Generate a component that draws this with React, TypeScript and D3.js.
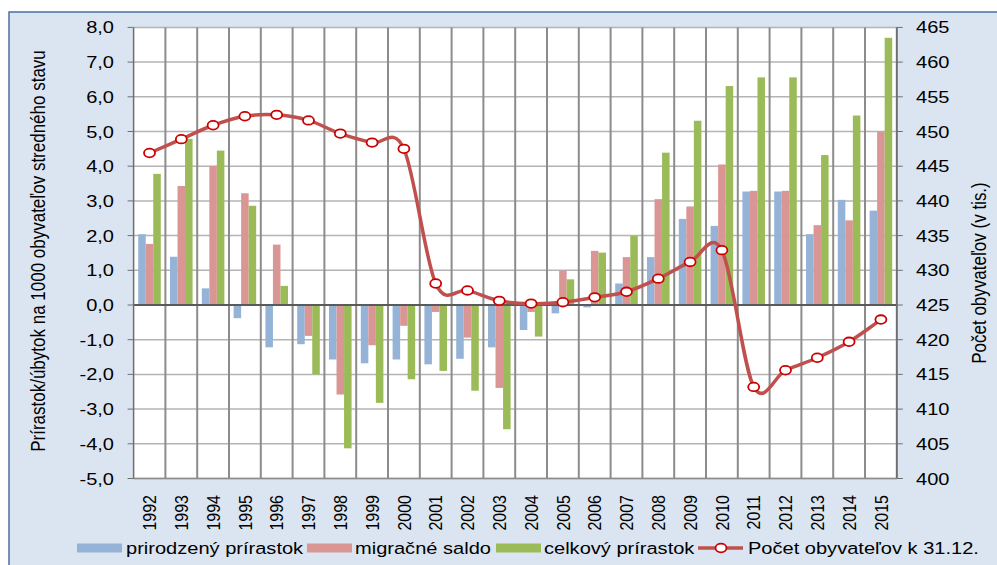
import * as d3 from 'd3';

// values
const years = [
  '1992', '1993', '1994', '1995', '1996', '1997', '1998', '1999', '2000', '2001', '2002', '2003',
  '2004', '2005', '2006', '2007', '2008', '2009', '2010', '2011', '2012', '2013', '2014', '2015',
];
const naturalIncrease = [
  2.04, 1.39, 0.48, -0.38, -1.22, -1.13, -1.57, -1.68, -1.57, -1.71, -1.55, -1.22,
  -0.72, -0.24, -0.07, 0.62, 1.38, 2.48, 2.28, 3.27, 3.27, 2.04, 3.03, 2.72,
];
const migrationBalance = [
  1.76, 3.43, 4.01, 3.22, 1.74, -0.89, -2.58, -1.16, -0.6, -0.2, -0.94, -2.39,
  -0.2, 0.99, 1.56, 1.38, 3.05, 2.84, 4.05, 3.29, 3.29, 2.3, 2.44, 5.0,
];
const totalIncrease = [
  3.78, 4.79, 4.45, 2.86, 0.55, -2.0, -4.13, -2.82, -2.14, -1.9, -2.47, -3.58,
  -0.91, 0.74, 1.51, 1.99, 4.39, 5.31, 6.31, 6.56, 6.56, 4.32, 5.46, 7.7,
];
const population = [
  446.9, 448.9, 450.9, 452.2, 452.4, 451.6, 449.7, 448.4, 447.5, 428.1, 427.1, 425.6,
  425.2, 425.4, 426.1, 426.9, 428.8, 431.2, 432.9, 413.2, 415.6, 417.4, 419.7, 422.9,
];
const leftTicks = [8, 7, 6, 5, 4, 3, 2, 1, 0, -1, -2, -3, -4, -5];
const rightTicks = [465, 460, 455, 450, 445, 440, 435, 430, 425, 420, 415, 410, 405, 400];

const barSeries = [
  { name: 'prirodzený prírastok', values: naturalIncrease, color: '#95b3d7' },
  { name: 'migračné saldo', values: migrationBalance, color: '#da9694' },
  { name: 'celkový prírastok', values: totalIncrease, color: '#9bbb59' },
];
const lineName = 'Počet obyvateľov k 31.12.';

const W = 997;
const H = 565;
const SX = 1.18; // the reference text is drawn slightly wide
const FONT = '"Liberation Sans", Arial, sans-serif';
const plot = { left: 133.6, right: 896.8, top: 27.4, bottom: 478.5 };

// text that is stretched horizontally like in the picture
const Txt = ({ x, y, rot, anchor, size, dy, children }: any) => (
  <text
    transform={`translate(${x},${y}) scale(${SX},1)${rot ? ' rotate(-90)' : ''}`}
    textAnchor={anchor || 'start'}
    fontSize={size || 17}
    dy={dy}
    fontFamily={FONT}
    fill='#000'
  >
    {children}
  </text>
);

const App = () => {
  const x = d3
    .scaleBand<string>()
    .domain(years)
    .range([plot.left, plot.right])
    .paddingInner(0.29)
    .paddingOuter(0.145);
  const step = x.step();
  const xs = d3
    .scaleBand<number>()
    .domain([0, 1, 2])
    .range([0, x.bandwidth()])
    .padding(0);
  const y = d3.scaleLinear().domain([-5, 8]).range([plot.bottom, plot.top]);
  const y2 = d3.scaleLinear().domain([400, 465]).range([plot.bottom, plot.top]);
  const cx = (yr: string) => (x(yr) || 0) + x.bandwidth() / 2;

  const line = d3
    .line<number>()
    .x((_, i) => cx(years[i]))
    .y((d) => y2(d))
    .curve(d3.curveCatmullRom.alpha(0));

  const legendItems = [
    { sx: 77, tx: 126 },
    { sx: 307, tx: 355 },
    { sx: 496, tx: 544 },
  ];

  return (
    <svg
      width={W}
      height={H}
      style={{ position: 'absolute', left: 0, top: 0, background: '#fff' }}
    >
      {/* outer frame */}
      <rect x={9} y={12} width={W + 20} height={H + 20} fill='#dbe5f1' stroke='#4a6fa5' strokeWidth={1.5} />

      {/* plot area */}
      <rect x={plot.left} y={plot.top} width={plot.right - plot.left} height={plot.bottom - plot.top} fill='#fff' />

      {/* horizontal grid */}
      {leftTicks.map((t) => (
        <line key={'h' + t} x1={plot.left} x2={plot.right} y1={y(t)} y2={y(t)} stroke='#b4b4b4' strokeWidth={1.5} />
      ))}
      {/* vertical grid between categories */}
      {years.map((yr, i) => (
        <line
          key={'v' + yr}
          x1={plot.left + step * (i + 1)}
          x2={plot.left + step * (i + 1)}
          y1={plot.top}
          y2={plot.bottom}
          stroke='#8c8c8c'
          strokeWidth={2}
        />
      ))}

      {/* bars */}
      {barSeries.map((s, si) =>
        s.values.map((v, i) => (
          <rect
            key={s.name + i}
            x={(x(years[i]) || 0) + (xs(si) || 0)}
            y={y(Math.max(0, v))}
            width={xs.bandwidth()}
            height={Math.abs(y(v) - y(0))}
            fill={s.color}
          />
        ))
      )}

      {/* axes */}
      <line x1={plot.left} x2={plot.right} y1={y(0)} y2={y(0)} stroke='#5a5a5a' strokeWidth={1.8} />
      <line x1={plot.left} x2={plot.left} y1={plot.top} y2={plot.bottom} stroke='#6e6e6e' strokeWidth={1.5} />
      <line x1={plot.right} x2={plot.right} y1={plot.top} y2={plot.bottom} stroke='#6e6e6e' strokeWidth={1.5} />
      <line x1={plot.left} x2={plot.right} y1={plot.bottom} y2={plot.bottom} stroke='#8c8c8c' strokeWidth={1.5} />

      {leftTicks.map((t) => (
        <g key={'lt' + t}>
          <line x1={plot.left - 6} x2={plot.left} y1={y(t)} y2={y(t)} stroke='#6e6e6e' strokeWidth={1} />
          <Txt x={114} y={y(t) + 6} anchor='end'>
            {d3.format('.1f')(t).replace('.', ',').replace('−', '-')}
          </Txt>
        </g>
      ))}
      {rightTicks.map((t) => (
        <g key={'rt' + t}>
          <line x1={plot.right} x2={plot.right + 6} y1={y2(t)} y2={y2(t)} stroke='#6e6e6e' strokeWidth={1} />
          <Txt x={916} y={y2(t) + 6}>
            {t}
          </Txt>
        </g>
      ))}

      {/* category labels */}
      {years.map((yr) => (
        <Txt key={'yl' + yr} x={cx(yr)} y={495} rot anchor='end' size={16} dy='0.35em'>
          {yr}
        </Txt>
      ))}

      {/* population line */}
      <path d={line(population) || ''} fill='none' stroke='#c0504d' strokeWidth={3.5} />
      {population.map((p, i) => (
        <ellipse key={'m' + i} cx={cx(years[i])} cy={y2(p)} rx={5.5} ry={4.3} fill='#fff' stroke='#cc0000' strokeWidth={1.8} />
      ))}

      {/* axis titles */}
      <Txt x={38} y={251} rot anchor='middle' dy='0.35em'>
        Prírastok/úbytok na 1000 obyvateľov stredného stavu
      </Txt>
      <Txt x={979} y={273} rot anchor='middle' dy='0.35em'>
        Počet obyvateľov (v tis.)
      </Txt>

      {/* legend */}
      {barSeries.map((s, i) => (
        <g key={'lg' + i}>
          <rect x={legendItems[i].sx} y={543.5} width={45} height={9} fill={s.color} />
          <Txt x={legendItems[i].tx} y={554}>
            {s.name}
          </Txt>
        </g>
      ))}
      <line x1={698} x2={743} y1={548} y2={548} stroke='#c0504d' strokeWidth={3.5} />
      <ellipse cx={721} cy={548} rx={5.5} ry={4.3} fill='#fff' stroke='#cc0000' strokeWidth={1.8} />
      <Txt x={748} y={554}>
        {lineName}
      </Txt>
    </svg>
  );
};

export default App;
